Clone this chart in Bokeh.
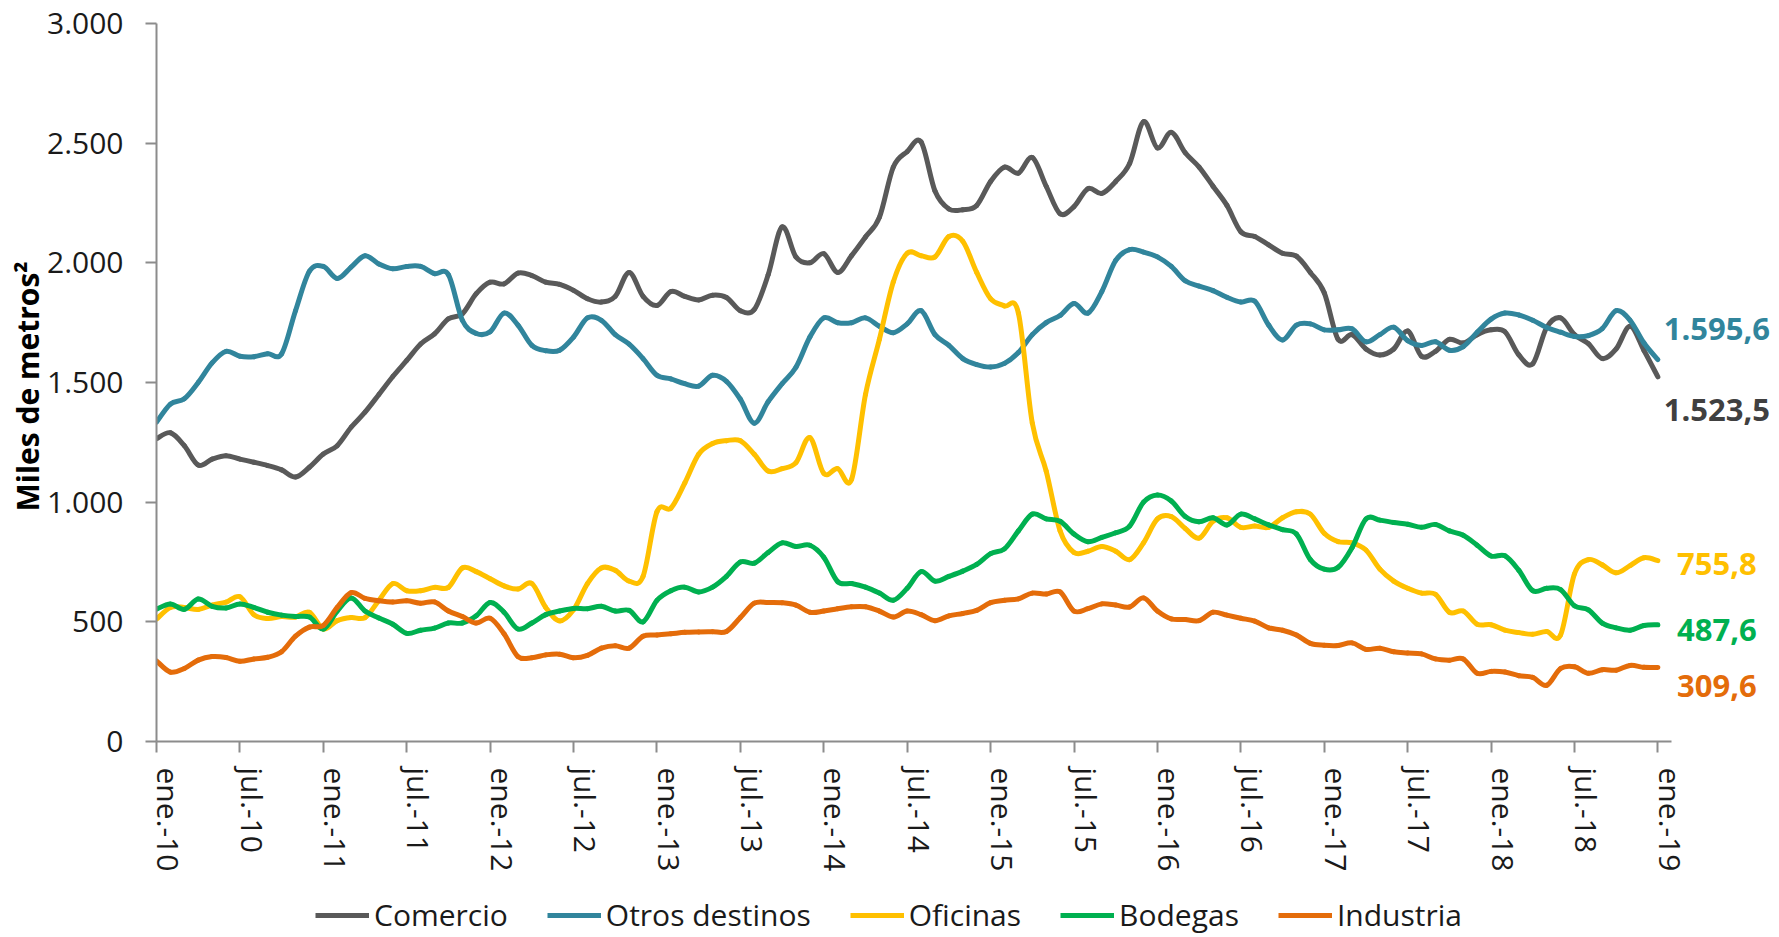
from bokeh.plotting import figure
from bokeh.layouts import column
from bokeh.models import Range1d, FixedTicker, Legend, LegendItem, LinearAxis
from bokeh.core.properties import value
from bokeh.embed import file_html
from bokeh.resources import INLINE

# ---------------- data ----------------
months = list(range(109))  # ene-10 ... ene-19

tick_months = list(range(0, 109, 6))
tick_labels = []
for yy in range(10, 19):
    tick_labels += ["ene.-%d" % yy, "jul.-%d" % yy]
tick_labels.append("ene.-19")

y_ticks = [0, 500, 1000, 1500, 2000, 2500, 3000]
y_tick_labels = ["0", "500", "1.000", "1.500", "2.000", "2.500", "3.000"]

comercio = [1265, 1290, 1236, 1155, 1180, 1194, 1180, 1167, 1153, 1135,
            1105, 1146, 1201, 1236, 1313, 1376, 1450, 1525, 1592, 1661,
            1703, 1766, 1787, 1871, 1919, 1912, 1957, 1947, 1919, 1910,
            1885, 1850, 1836, 1860, 1960, 1860, 1822, 1880, 1860, 1845,
            1865, 1855, 1800, 1805, 1950, 2150, 2024, 2000, 2038, 1960,
            2030, 2108, 2190, 2400, 2465, 2505, 2300, 2225, 2222, 2240,
            2340, 2400, 2375, 2440, 2320, 2205, 2235, 2310, 2290, 2340,
            2415, 2590, 2480, 2545, 2460, 2400, 2320, 2240, 2130, 2110,
            2075, 2040, 2028, 1960, 1875, 1680, 1700, 1640, 1615, 1640,
            1715, 1610, 1630, 1680, 1665, 1700, 1720, 1712, 1615, 1578,
            1730, 1770, 1700, 1662, 1600, 1640, 1735, 1634, 1523.5]

otros = [1334, 1410, 1432, 1500, 1582, 1630, 1610, 1608, 1620, 1620,
         1800, 1965, 1985, 1935, 1982, 2030, 1995, 1975, 1985, 1985,
         1955, 1950, 1760, 1705, 1712, 1790, 1740, 1655, 1633, 1635,
         1690, 1770, 1760, 1700, 1660, 1600, 1530, 1515, 1495, 1485,
         1530, 1505, 1430, 1330, 1420, 1495, 1564, 1690, 1770, 1750,
         1750, 1770, 1735, 1708, 1745, 1800, 1700, 1655, 1600, 1575,
         1565, 1580, 1625, 1700, 1750, 1780, 1830, 1790, 1880, 2010,
         2055, 2045, 2025, 1985, 1925, 1903, 1884, 1856, 1836, 1840,
         1740, 1678, 1740, 1745, 1720, 1720, 1724, 1670, 1700, 1731,
         1675, 1655, 1670, 1635, 1650, 1710, 1765, 1790, 1782, 1760,
         1730, 1710, 1692, 1696, 1725, 1800, 1760, 1665, 1595.6]

oficinas = [511, 560, 560, 552, 570, 582, 605, 530, 514, 522,
            520, 540, 470, 505, 518, 518, 590, 660, 630, 630,
            644, 644, 725, 710, 680, 650, 637, 660, 560, 504,
            550, 660, 725, 715, 670, 690, 960, 975, 1080, 1200,
            1245, 1257, 1257, 1200, 1130, 1140, 1165, 1270, 1120, 1140,
            1095, 1450, 1680, 1920, 2040, 2030, 2025, 2110, 2090, 1960,
            1850, 1820, 1790, 1330, 1130, 880, 790, 795, 815, 795,
            760, 830, 930, 940, 890, 850, 920, 935, 895, 900,
            895, 935, 960, 950, 870, 835, 830, 800, 720, 670,
            640, 620, 615, 540, 545, 490, 488, 465, 455, 448,
            460, 445, 700, 760, 738, 705, 735, 768, 755.8]

bodegas = [553, 575, 552, 595, 565, 558, 575, 560, 540, 528,
           522, 520, 470, 545, 600, 545, 516, 490, 452, 465,
           474, 495, 495, 525, 581, 540, 470, 495, 530, 545,
           556, 555, 565, 545, 548, 500, 590, 630, 645, 625,
           645, 690, 750, 745, 790, 830, 815, 820, 770, 668,
           660, 645, 620, 590, 640, 710, 670, 690, 712, 740,
           785, 805, 880, 950, 930, 920, 867, 835, 853, 872,
           900, 1000, 1030, 1005, 940, 918, 935, 905, 950, 930,
           905, 885, 867, 760, 720, 728, 810, 930, 925, 915,
           908, 895, 907, 880, 862, 820, 775, 776, 715, 630,
           640, 635, 567, 550, 495, 475, 465, 485, 487.6]

industria = [337, 290, 305, 340, 355, 351, 335, 345, 352, 375,
             440, 478, 485, 560, 622, 598, 588, 583, 588, 578,
             583, 545, 522, 495, 515, 450, 355, 350, 362, 365,
             350, 360, 390, 400, 390, 440, 445, 450, 456, 458,
             459, 460, 518, 578, 581, 580, 570, 540, 545, 555,
             563, 563, 545, 520, 545, 530, 505, 525, 535, 548,
             580, 590, 596, 620, 616, 625, 545, 555, 575, 570,
             562, 600, 545, 512, 510, 505, 540, 528, 515, 503,
             475, 465, 445, 410, 402, 401, 412, 385, 390, 375,
             370, 366, 345, 340, 345, 285, 293, 290, 275, 268,
             235, 305, 312, 285, 300, 298, 318, 310, 309.6]

names = ["Comercio", "Otros destinos", "Oficinas", "Bodegas", "Industria"]
series = [comercio, otros, oficinas, bodegas, industria]
colors = ["#595959", "#31859C", "#FFC000", "#00B050", "#E46C0A"]
end_labels = ["1.523,5", "1.595,6", "755,8", "487,6", "309,6"]
label_colors = ["#404040", "#31859C", "#FFC000", "#00B050", "#E46C0A"]
label_dy = [33, -31, 3, 5, 19]   # screen-pixel offsets of the end labels (down = +)

FONT = "Open Sans"
TXT = "#1a1a1a"
AX = "#8c8c8c"
W = 1771
LEFT = 156
FRAME_W = W - LEFT
FRAME_H = 718
TOP = 23
MAIN_H = 890
LEG_H = 45
PX_PER_MONTH = 1515.0 / 108.98
X_AXIS_END = 108.98
LABEL_SHIFT = 0.875  # tick labels sit right of their tick marks, as in the original


def smooth_segments(xs, ys, t=1.0 / 6.0):
    """Cubic Bezier control points (Catmull-Rom style), like Excel's smoothed line."""
    n = len(xs)
    out = dict(x0=[], y0=[], x1=[], y1=[], cx0=[], cy0=[], cx1=[], cy1=[])
    for i in range(n - 1):
        ip = max(i - 1, 0)
        in2 = min(i + 2, n - 1)
        out["x0"].append(xs[i]); out["y0"].append(ys[i])
        out["x1"].append(xs[i + 1]); out["y1"].append(ys[i + 1])
        out["cx0"].append(xs[i] + (xs[i + 1] - xs[ip]) * t)
        out["cy0"].append(ys[i] + (ys[i + 1] - ys[ip]) * t)
        out["cx1"].append(xs[i + 1] - (xs[in2] - xs[i]) * t)
        out["cy1"].append(ys[i + 1] - (ys[in2] - ys[i]) * t)
    return out


p = figure(frame_width=FRAME_W, frame_height=FRAME_H,
           x_range=Range1d(0, FRAME_W / PX_PER_MONTH), y_range=Range1d(0, 3000),
           output_backend="svg", toolbar_location=None,
           min_border_left=LEFT, min_border_right=0,
           min_border_top=TOP, min_border_bottom=MAIN_H - TOP - FRAME_H)

p.xgrid.visible = False
p.ygrid.visible = False
p.outline_line_color = None
p.background_fill_color = "white"
p.border_fill_color = "white"

# y axis
ya = p.yaxis[0]
ya.ticker = FixedTicker(ticks=y_ticks)
ya.major_label_overrides = {v: s for v, s in zip(y_ticks, y_tick_labels)}
ya.axis_line_color = AX
ya.axis_line_width = 2
ya.major_tick_line_color = AX
ya.major_tick_line_width = 2
ya.major_tick_out = 11
ya.major_tick_in = 0
ya.minor_tick_line_color = None
ya.major_label_text_font = FONT
ya.major_label_text_font_size = "30px"
ya.major_label_text_color = TXT
ya.major_label_standoff = 22
ya.axis_label = "Miles de metros²\u00a0"
ya.axis_label_text_font = FONT
ya.axis_label_text_font_style = "bold"
ya.axis_label_text_font_size = "30px"
ya.axis_label_text_color = "#000000"
ya.axis_label_standoff = -4

# x axis: line and tick marks
xa = p.xaxis[0]
xa.ticker = FixedTicker(ticks=tick_months)
xa.bounds = (0, X_AXIS_END)
xa.axis_line_color = AX
xa.axis_line_width = 2
xa.major_tick_line_color = AX
xa.major_tick_line_width = 2
xa.major_tick_out = 11
xa.major_tick_in = 0
xa.minor_tick_line_color = None
xa.major_label_overrides = {v: "" for v in tick_months}
xa.major_label_text_font_size = "0px"
xa.major_label_standoff = 0

# x axis: the month labels (rotated), a little to the right of each tick
lab_pos = [m + LABEL_SHIFT for m in tick_months]
xl = LinearAxis(ticker=FixedTicker(ticks=lab_pos),
                major_label_overrides={v: s for v, s in zip(lab_pos, tick_labels)},
                axis_line_color=None, major_tick_line_color=None,
                minor_tick_line_color=None, major_tick_out=0, major_tick_in=0,
                major_label_orientation="vertical", major_label_standoff=15,
                major_label_text_font=FONT, major_label_text_font_size="30px",
                major_label_text_color=TXT)
p.add_layout(xl, "below")

for name, ys, col in zip(names, series, colors):
    seg = smooth_segments(months, ys)
    p.bezier(x0="x0", y0="y0", x1="x1", y1="y1", cx0="cx0", cy0="cy0",
             cx1="cx1", cy1="cy1", source=seg, line_color=col,
             line_width=5, line_cap="round")

for ys, txt, col, dy in zip(series, end_labels, label_colors, label_dy):
    p.text(x=[months[-1]], y=[ys[-1]], text=[txt], x_offset=59, y_offset=dy,
           text_align="center", text_baseline="middle",
           text_font=value(FONT), text_font_style="bold",
           text_font_size="31px", text_color=col)

# ---------------- legend strip under the chart ----------------
# The strip shares the chart's borders; its lines only feed the legend keys
# (their values lie outside this strip's visible range).
pl = figure(frame_width=FRAME_W, frame_height=LEG_H,
            x_range=Range1d(0, 1), y_range=Range1d(5000, 5001),
            output_backend="svg", toolbar_location=None,
            min_border_left=LEFT, min_border_right=0,
            min_border_top=0, min_border_bottom=0)
pl.axis.visible = False
pl.grid.visible = False
pl.outline_line_color = None
pl.background_fill_color = "white"
pl.border_fill_color = "white"

items = []
for name, ys, col in zip(names, series, colors):
    r = pl.line(x=months, y=ys, line_color=col, line_width=5)
    items.append(LegendItem(label=name, renderers=[r]))

legend = Legend(items=items, orientation="horizontal", location=(159, 0),
                label_text_font=FONT, label_text_font_size="30px",
                label_text_color=TXT, glyph_width=54, glyph_height=20,
                label_standoff=5, spacing=39, padding=0, margin=0,
                border_line_color=None, background_fill_alpha=0)
pl.add_layout(legend, "center")

layout = column(p, pl, spacing=0)
open("out.html", "w").write(file_html(layout, INLINE))
